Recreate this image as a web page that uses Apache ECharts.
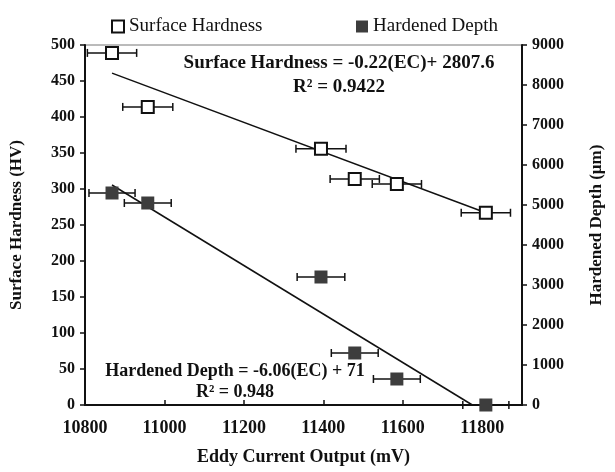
<!DOCTYPE html>
<html>
<head>
<meta charset="utf-8">
<script src="https://cdn.jsdelivr.net/npm/echarts@6/dist/echarts.min.js"></script>
<style>
  html, body { margin: 0; padding: 0; background: #fff; }
  #main { width: 615px; height: 472px; }
</style>
</head>
<body>
<div id="main"></div>
<script>
// eddy current output (mV) for each specimen
var ecOutput = [10868, 10958, 11394, 11479, 11585, 11809];
var surfaceHardness = [489, 414, 356, 314, 307, 267];
var hardenedDepth = [5300, 5050, 3200, 1300, 650, 0];
// horizontal error (mV)
var hardnessErr = [62, 63, 63, 62, 62, 62];
var depthErr = [58, 59, 60, 59, 59, 58];
// linear fits, two end points each
var hardnessFitX = [10868, 11809];
var hardnessFitY = [461, 267];
var depthFitX = [10868, 11775];
var depthFitY = [5500, 0];

var FONT = 'Liberation Serif';

function pairs(xs, ys, es) {
    return xs.map(function(x, i) {
        return es ? [x, ys[i], es[i]] : [x, ys[i]];
    });
}

function plain(v) {
    return String(v);
}

function errorBar(params, api) {
    var x = api.value(0), y = api.value(1), e = api.value(2);
    var a = api.coord([x - e, y]);
    var b = api.coord([x + e, y]);
    var h = 4;
    var st = { stroke: '#111', lineWidth: 1.5 };
    return {
        type: 'group',
        children: [
            { type: 'line', shape: { x1: a[0], y1: a[1], x2: b[0], y2: b[1] }, style: st },
            { type: 'line', shape: { x1: a[0], y1: a[1] - h, x2: a[0], y2: a[1] + h }, style: st },
            { type: 'line', shape: { x1: b[0], y1: b[1] - h, x2: b[0], y2: b[1] + h }, style: st }
        ]
    };
}

var myChart = echarts.init(document.getElementById('main'));

var axisText = { fontFamily: FONT, fontWeight: 'bold', color: '#111' };

var option = {
    backgroundColor: '#fff',
    animation: false,
    textStyle: { fontFamily: FONT },
    legend: [{
        left: 106, top: 12,
        itemWidth: 12, itemHeight: 12, itemGap: 6,
        textStyle: { fontFamily: FONT, fontSize: 19, color: '#111' },
        data: [{ name: 'Surface Hardness', icon: 'rect',
            itemStyle: { color: '#fff', borderColor: '#111', borderWidth: 2 } }]
    }, {
        left: 351, top: 12,
        itemWidth: 12, itemHeight: 12, itemGap: 6,
        textStyle: { fontFamily: FONT, fontSize: 19, color: '#111' },
        data: [{ name: 'Hardened Depth', icon: 'rect',
            itemStyle: { color: '#3d3d3d', borderWidth: 0 } }]
    }],
    grid: {
        left: 85, right: 93, top: 45, bottom: 67,
        show: true, borderColor: '#777', borderWidth: 1
    },
    xAxis: {
        type: 'value', min: 10800, max: 11900, interval: 200,
        name: 'Eddy Current Output (mV)',
        nameLocation: 'middle', nameGap: 43,
        nameTextStyle: Object.assign({ fontSize: 18 }, axisText),
        axisLine: { lineStyle: { color: '#111', width: 2 } },
        axisTick: { inside: true, length: 5, lineStyle: { color: '#111', width: 1.5 } },
        axisLabel: Object.assign({ fontSize: 18, margin: 14, showMaxLabel: false, formatter: plain }, axisText),
        splitLine: { show: false }
    },
    yAxis: [{
        type: 'value', min: 0, max: 500, interval: 50,
        name: 'Surface Hardness (HV)',
        nameLocation: 'middle', nameGap: 60, nameRotate: 90,
        nameTextStyle: Object.assign({ fontSize: 17 }, axisText),
        axisLine: { show: true, lineStyle: { color: '#111', width: 2 } },
        axisTick: { show: true, length: 5, lineStyle: { color: '#111', width: 1.5 } },
        axisLabel: Object.assign({ fontSize: 16, margin: 10, formatter: plain }, axisText),
        splitLine: { show: false }
    }, {
        type: 'value', min: 0, max: 9000, interval: 1000,
        position: 'right',
        name: 'Hardened Depth (µm)',
        nameLocation: 'middle', nameGap: 66, nameRotate: 90,
        nameTextStyle: Object.assign({ fontSize: 17 }, axisText),
        axisLine: { show: true, lineStyle: { color: '#111', width: 2 } },
        axisTick: { show: true, length: 5, lineStyle: { color: '#111', width: 1.5 } },
        axisLabel: Object.assign({ fontSize: 16, margin: 10, formatter: plain }, axisText),
        splitLine: { show: false }
    }],
    graphic: [{
        type: 'text',
        style: {
            text: 'Surface Hardness = -0.22(EC)+ 2807.6\nR² = 0.9422',
            x: 339, y: 51, align: 'center', lineHeight: 24,
            font: 'bold 19px "Liberation Serif"', fill: '#111'
        }
    }, {
        type: 'text',
        style: {
            text: 'Hardened Depth = -6.06(EC) + 71\nR² = 0.948',
            x: 235, y: 361, align: 'center', lineHeight: 21,
            font: 'bold 18px "Liberation Serif"', fill: '#111'
        }
    }],
    series: [{
        name: 'Surface Hardness fit', type: 'line',
        data: pairs(hardnessFitX, hardnessFitY),
        showSymbol: false, silent: true,
        lineStyle: { color: '#111', width: 1.5 }, z: 2
    }, {
        name: 'Hardened Depth fit', type: 'line', yAxisIndex: 1,
        data: pairs(depthFitX, depthFitY),
        showSymbol: false, silent: true,
        lineStyle: { color: '#111', width: 1.5 }, z: 2
    }, {
        type: 'custom', renderItem: errorBar,
        data: pairs(ecOutput, surfaceHardness, hardnessErr), z: 3
    }, {
        type: 'custom', renderItem: errorBar, yAxisIndex: 1,
        data: pairs(ecOutput, hardenedDepth, depthErr), z: 3
    }, {
        name: 'Surface Hardness', type: 'scatter',
        data: pairs(ecOutput, surfaceHardness),
        symbol: 'rect', symbolSize: 12,
        itemStyle: { color: '#fff', borderColor: '#111', borderWidth: 2, opacity: 1 }, z: 5
    }, {
        name: 'Hardened Depth', type: 'scatter', yAxisIndex: 1,
        data: pairs(ecOutput, hardenedDepth),
        symbol: 'rect', symbolSize: 13,
        itemStyle: { color: '#3d3d3d', opacity: 1 }, z: 5
    }]
};

myChart.setOption(option);
</script>
</body>
</html>
